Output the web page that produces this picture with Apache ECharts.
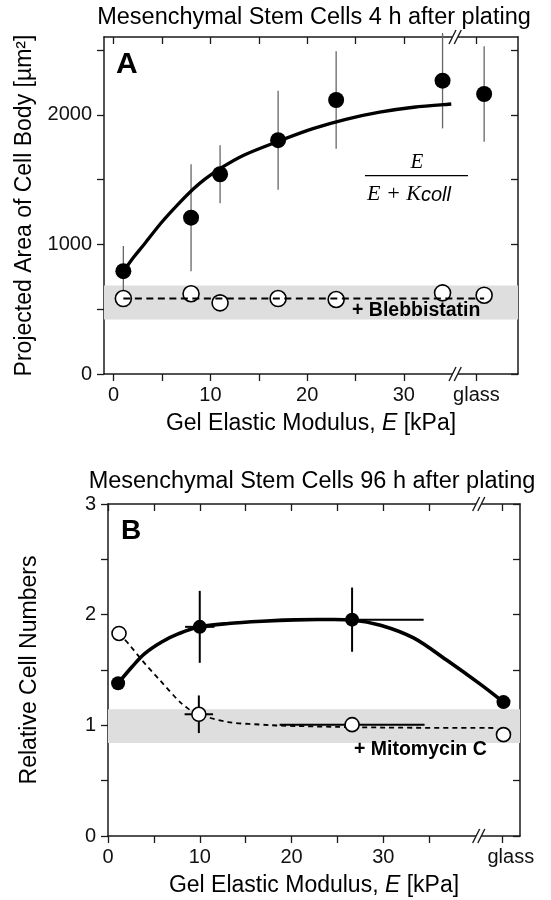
<!DOCTYPE html>
<html><head><meta charset="utf-8">
<script src="https://cdn.jsdelivr.net/npm/echarts@6/dist/echarts.min.js"></script>
<style>html,body{margin:0;padding:0;background:#fff}#c{width:551px;height:900px}</style>
</head><body><div id="c"></div>
<script>
// ---------- Panel A : 4 h after plating ----------
const aE = [1, 8, 11, 17, 23, 34, 38.3];               // last = glass
const aFilled = [793, 1206, 1541, 1804, 2114, 2263, 2160];
const aFilledErr = [194, 413, 224, 382, 376, 368, 369];
const aOpen = [582, 619, 549, 582, 575, 626, 608];      // + Blebbistatin
const aFitE = [1, 2, 3.2, 4.9, 6.6, 8.2, 9.4, 11, 13.5, 17, 20.6, 24, 27.5, 31, 34.9];
const aFitArea = [790, 895, 1005, 1165, 1305, 1425, 1502, 1585, 1690, 1795, 1893, 1965, 2020, 2058, 2083];
const aBlebE = [1, 38.3];
const aBlebLine = [582, 582];
const aBand = [420, 683];
const aXTicks = [0, 5, 10, 15, 20, 25, 30, 37.5];
const aXLabels = [0, 10, 20, 30, 37.5];
const aYTicks = [0, 500, 1000, 1500, 2000, 2500];
const aYLabels = [0, 1000, 2000];
const aBreak = [35.3];

// ---------- Panel B : 96 h after plating ----------
const bFilledE = [1.1, 10, 26.6, 43.1];                 // last = glass
const bFilled = [1.38, 1.89, 1.955, 1.21];
const bFilledXErr = [0, 1.6, 7.8, 0];
const bFilledYErr = [0, 0.325, 0.29, 0];
const bOpenE = [1.2, 9.9, 26.6, 43.1];                  // + Mitomycin C
const bOpen = [1.83, 1.10, 1.006, 0.916];
const bOpenXErr = [0, 1.55, 7.9, 0];
const bOpenYErr = [0, 0.17, 0, 0];
const bFitE = [1.1, 2.6, 4.0, 5.85, 7.7, 10, 13.1, 16.8, 20.4, 23, 26.6, 29.7, 33.3, 36.9, 40.6, 43.1];
const bFit = [1.38, 1.527, 1.648, 1.753, 1.828, 1.89, 1.92, 1.94, 1.953, 1.956, 1.952, 1.905, 1.79, 1.59, 1.37, 1.21];
const bMitoE = [1.2, 2.2, 4.0, 5.85, 7.5, 8.5, 9.9, 13.1, 16.8, 20.4, 30, 42.4];
const bMito = [1.83, 1.74, 1.56, 1.39, 1.24, 1.165, 1.10, 1.03, 1.006, 0.994, 0.98, 0.976];
const bBand = [0.84, 1.145];
const bXTicks = [0, 5, 10, 15, 20, 25, 30, 35, 43];
const bXLabels = [0, 10, 20, 30, 43.9];
const bYTicks = [0, 0.5, 1, 1.5, 2, 2.5, 3];
const bYLabels = [0, 1, 2, 3];
const bBreak = [40.4];

const FONT = 'Liberation Sans';
const AX = '#1a1a1a';

function pairs(xs, ys) { return xs.map((x, i) => [x, ys[i]]); }

function errRender(color, width) {
  return function (params, api) {
    const x = api.value(0), y = api.value(1), xe = api.value(2), ye = api.value(3);
    const ch = [];
    if (ye > 0) {
      const p1 = api.coord([x, y - ye]), p2 = api.coord([x, y + ye]);
      ch.push({ type: 'line', shape: { x1: p1[0], y1: p1[1], x2: p2[0], y2: p2[1] }, style: { stroke: color, lineWidth: width } });
    }
    if (xe > 0) {
      const p1 = api.coord([x - xe, y]), p2 = api.coord([x + xe, y]);
      ch.push({ type: 'line', shape: { x1: p1[0], y1: p1[1], x2: p2[0], y2: p2[1] }, style: { stroke: color, lineWidth: width } });
    }
    return { type: 'group', children: ch };
  };
}
// smooth curve through the read points (Catmull-Rom -> cubic Bezier), positioned by the axes
function splineRender(xs, ys, width, dash) {
  return function (params, api) {
    if (params.dataIndex !== 0) return null;
    const p = xs.map((x, i) => api.coord([x, ys[i]]));
    let d = 'M' + p[0][0] + ' ' + p[0][1];
    for (let i = 0; i < p.length - 1; i++) {
      const p0 = p[i - 1] || p[i], p1 = p[i], p2 = p[i + 1], p3 = p[i + 2] || p[i + 1];
      const c1 = [p1[0] + (p2[0] - p0[0]) / 6, p1[1] + (p2[1] - p0[1]) / 6];
      const c2 = [p2[0] - (p3[0] - p1[0]) / 6, p2[1] - (p3[1] - p1[1]) / 6];
      d += ' C' + c1[0] + ' ' + c1[1] + ' ' + c2[0] + ' ' + c2[1] + ' ' + p2[0] + ' ' + p2[1];
    }
    return { type: 'path', shape: { pathData: d },
      style: { fill: null, stroke: '#000', lineWidth: width, lineDash: dash || null, lineJoin: 'round', lineCap: 'butt' } };
  };
}
function bandRender(params, api) {
  const cs = params.coordSys;
  const lo = api.coord([0, api.value(0)])[1], hi = api.coord([0, api.value(1)])[1];
  return { type: 'rect', shape: { x: cs.x, y: hi, width: cs.width, height: lo - hi }, style: { fill: '#dedede' } };
}
function breakRender(params, api) {
  const cs = params.coordSys;
  const x = api.coord([api.value(0), 0])[0];
  const ch = [];
  [cs.y, cs.y + cs.height].forEach(y => {
    const h = 7, s = 3.5, g = 2.6;
    ch.push({ type: 'polygon', shape: { points: [[x - g - s, y + h], [x - g + s, y - h], [x + g + s, y - h], [x + g - s, y + h]] }, style: { fill: '#fff' } });
    ch.push({ type: 'line', shape: { x1: x - g - s, y1: y + h, x2: x - g + s, y2: y - h }, style: { stroke: AX, lineWidth: 1.4 } });
    ch.push({ type: 'line', shape: { x1: x + g - s, y1: y + h, x2: x + g + s, y2: y - h }, style: { stroke: AX, lineWidth: 1.4 } });
  });
  return { type: 'group', children: ch };
}

const nameRich = {
  n: { fontFamily: FONT, fontSize: 23, color: '#000' },
  i: { fontFamily: FONT, fontSize: 23, fontStyle: 'italic', color: '#000' }
};
const xName = '{n|Gel Elastic Modulus, }{i|E}{n| [kPa]}';

function xAxis(grid, min, max, ticks, labels, bottom) {
  return {
    gridIndex: grid, type: 'value', min: min, max: max, position: bottom ? 'bottom' : 'top',
    axisLine: { show: true, onZero: false, lineStyle: { color: AX, width: 1.5 } },
    axisTick: { show: true, inside: !bottom, length: 7, customValues: ticks, lineStyle: { color: AX, width: 1.3 } },
    axisLabel: bottom ? {
      customValues: labels, formatter: v => (v > 36 ? 'glass' : String(v)), margin: 11,
      fontSize: 20, fontFamily: FONT, color: '#111'
    } : { show: false },
    splitLine: { show: false },
    name: bottom ? xName : '', nameLocation: 'middle', nameGap: 38,
    nameTextStyle: { rich: nameRich }
  };
}
function yAxis(grid, min, max, ticks, labels, left, name, gap) {
  return {
    gridIndex: grid, type: 'value', min: min, max: max, position: left ? 'left' : 'right',
    axisLine: { show: true, onZero: false, lineStyle: { color: AX, width: 1.5 } },
    axisTick: { show: true, inside: !left, length: 7, customValues: ticks, lineStyle: { color: AX, width: 1.3 } },
    axisLabel: left ? { customValues: labels, formatter: v => String(v), margin: 12, fontSize: 20, fontFamily: FONT, color: '#111' } : { show: false },
    splitLine: { show: false },
    name: left ? name : '', nameLocation: 'middle', nameGap: gap,
    nameTextStyle: { fontFamily: FONT, fontSize: 23, color: '#000' }
  };
}

const chart = echarts.init(document.getElementById('c'), null, { renderer: 'canvas' });
chart.setOption({
  animation: false,
  backgroundColor: '#fff',
  grid: [
    { left: 104, top: 37, width: 414, height: 337 },
    { left: 108, top: 504, width: 412, height: 332 }
  ],
  xAxis: [
    xAxis(0, -1, 41.8, aXTicks, aXLabels, true),
    xAxis(0, -1, 41.8, aXTicks, aXLabels, false),
    xAxis(1, 0, 44.9, bXTicks, bXLabels, true),
    xAxis(1, 0, 44.9, bXTicks, bXLabels, false)
  ],
  yAxis: [
    yAxis(0, 0, 2600, aYTicks, aYLabels, true, 'Projected Area of Cell Body [µm²]', 61),
    yAxis(0, 0, 2600, aYTicks, aYLabels, false, '', 0),
    yAxis(1, 0, 3, bYTicks, bYLabels, true, 'Relative Cell Numbers', 67),
    yAxis(1, 0, 3, bYTicks, bYLabels, false, '', 0)
  ],
  series: [
    // ---- A ----
    { type: 'custom', xAxisIndex: 0, yAxisIndex: 0, z: 1, silent: true, renderItem: bandRender, data: [aBand] },
    { type: 'custom', xAxisIndex: 0, yAxisIndex: 0, z: 3, clip: false, renderItem: errRender('#666', 1.3),
      data: aE.map((e, i) => [e, aFilled[i], 0, aFilledErr[i]]) },
    { type: 'custom', xAxisIndex: 0, yAxisIndex: 0, z: 4, silent: true, renderItem: splineRender(aFitE, aFitArea, 3.3),
      data: pairs(aFitE, aFitArea) },
    { type: 'scatter', xAxisIndex: 0, yAxisIndex: 0, z: 5, symbolSize: 16, itemStyle: { color: '#000', opacity: 1 }, data: pairs(aE, aFilled) },
    { type: 'scatter', xAxisIndex: 0, yAxisIndex: 0, z: 5, symbolSize: 16, itemStyle: { color: '#fff', borderColor: '#000', borderWidth: 1.6, opacity: 1 }, data: pairs(aE, aOpen) },
    { type: 'line', xAxisIndex: 0, yAxisIndex: 0, z: 6, showSymbol: false,
      lineStyle: { color: '#000', width: 2, type: [7, 4.5] }, data: pairs(aBlebE, aBlebLine) },
    { type: 'custom', xAxisIndex: 0, yAxisIndex: 0, z: 7, clip: false, renderItem: breakRender, data: aBreak.map(b => [b, 0]) },
    // ---- B ----
    { type: 'custom', xAxisIndex: 2, yAxisIndex: 2, z: 1, silent: true, renderItem: bandRender, data: [bBand] },
    { type: 'custom', xAxisIndex: 2, yAxisIndex: 2, z: 3, silent: true, renderItem: splineRender(bMitoE, bMito, 1.8, [5, 4]),
      data: pairs(bMitoE, bMito) },
    { type: 'custom', xAxisIndex: 2, yAxisIndex: 2, z: 3, clip: false, renderItem: errRender('#000', 2),
      data: bFilledE.map((e, i) => [e, bFilled[i], bFilledXErr[i], bFilledYErr[i]]) },
    { type: 'custom', xAxisIndex: 2, yAxisIndex: 2, z: 3, clip: false, renderItem: errRender('#000', 2),
      data: bOpenE.map((e, i) => [e, bOpen[i], bOpenXErr[i], bOpenYErr[i]]) },
    { type: 'custom', xAxisIndex: 2, yAxisIndex: 2, z: 4, silent: true, renderItem: splineRender(bFitE, bFit, 3.6),
      data: pairs(bFitE, bFit) },
    { type: 'scatter', xAxisIndex: 2, yAxisIndex: 2, z: 5, symbolSize: 14, itemStyle: { color: '#000', opacity: 1 }, data: pairs(bFilledE, bFilled) },
    { type: 'scatter', xAxisIndex: 2, yAxisIndex: 2, z: 5, symbolSize: 14, itemStyle: { color: '#fff', borderColor: '#000', borderWidth: 1.6, opacity: 1 }, data: pairs(bOpenE, bOpen) },
    { type: 'custom', xAxisIndex: 2, yAxisIndex: 2, z: 7, clip: false, renderItem: breakRender, data: bBreak.map(b => [b, 0]) }
  ],
  graphic: [
    { type: 'text', z: 100, x: 314, y: 18, style: { text: 'Mesenchymal Stem Cells 4 h after plating', font: '23.5px "Liberation Sans"', fill: '#000', align: 'center', verticalAlign: 'middle' } },
    { type: 'text', z: 100, x: 312, y: 481.7, style: { text: 'Mesenchymal Stem Cells 96 h after plating', font: '23.5px "Liberation Sans"', fill: '#000', align: 'center', verticalAlign: 'middle' } },
    { type: 'text', z: 100, x: 116, y: 64.5, style: { text: 'A', font: 'bold 30px "Liberation Sans"', fill: '#000', align: 'left', verticalAlign: 'middle' } },
    { type: 'text', z: 100, x: 121, y: 531.7, style: { text: 'B', font: 'bold 28px "Liberation Sans"', fill: '#000', align: 'left', verticalAlign: 'middle' } },
    { type: 'text', z: 100, x: 352, y: 311, style: { text: '+ Blebbistatin', font: 'bold 19.5px "Liberation Sans"', fill: '#000', align: 'left', verticalAlign: 'middle' } },
    { type: 'text', z: 100, x: 354, y: 749.5, style: { text: '+ Mitomycin C', font: 'bold 19.5px "Liberation Sans"', fill: '#000', align: 'left', verticalAlign: 'middle' } },
    { type: 'text', z: 100, x: 417, y: 162.5, style: { text: 'E', font: 'italic 21px "Liberation Serif"', fill: '#000', align: 'center', verticalAlign: 'middle' } },
    { type: 'line', z: 100, shape: { x1: 365, y1: 175.7, x2: 468, y2: 175.7 }, style: { stroke: '#000', lineWidth: 1.3 } },
    { type: 'text', z: 100, x: 421, y: 194.7, style: { text: 'E + K', font: 'italic 22px "Liberation Serif"', fill: '#000', align: 'right', verticalAlign: 'middle' } },
    { type: 'text', z: 100, x: 421, y: 195.5, style: { text: 'coll', font: 'italic 20px "Liberation Sans"', fill: '#000', align: 'left', verticalAlign: 'middle' } }
  ]
});
</script>
</body></html>
